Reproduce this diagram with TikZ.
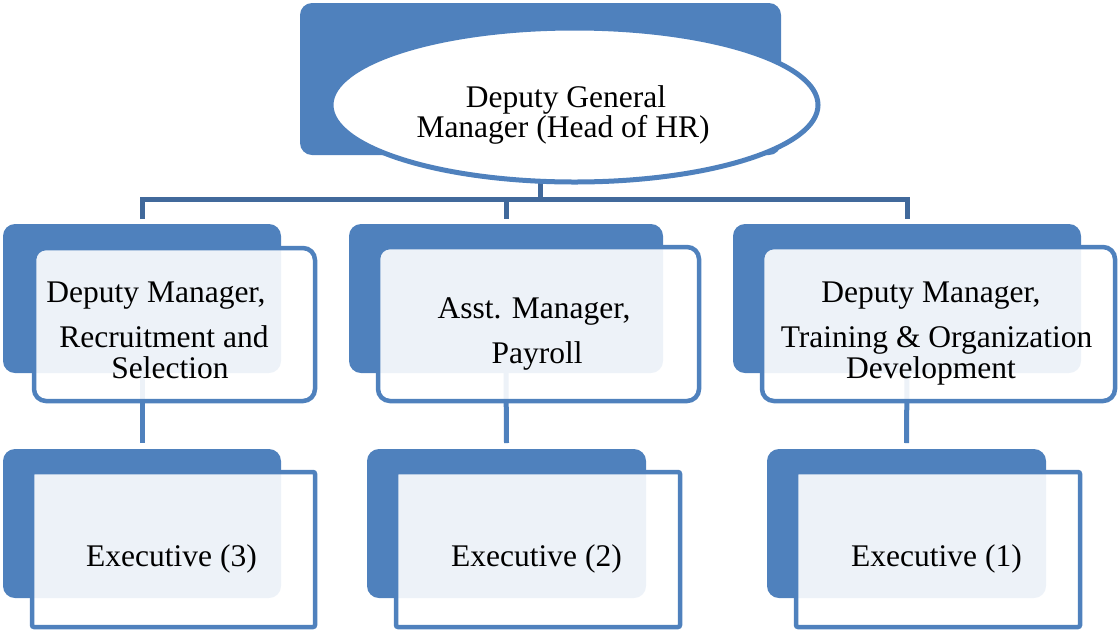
\documentclass[tikz,border=0pt]{standalone}
\usepackage{fontspec}
\setmainfont{Liberation Serif}
\usetikzlibrary{shapes.geometric}

\definecolor{accent}{RGB}{79,129,189}
\definecolor{linkdark}{RGB}{65,105,155}

\tikzset{
  bluebox/.style={fill=accent, draw=none, rounded corners=12pt, inner sep=0pt, outer sep=0pt},
  panel/.style={draw=accent, line width=4.5pt, fill=white, fill opacity=0.9, draw opacity=1,
                rounded corners=12pt, inner sep=0pt, outer sep=0pt},
  flatpanel/.style={panel, rounded corners=2pt},
  topnode/.style={ellipse, draw=accent, line width=5pt, fill=white, inner sep=0pt, outer sep=0pt,
                  minimum width=487pt, minimum height=154pt},
  conn/.style={draw=linkdark, line width=5pt, line join=miter},
  subconn/.style={draw=accent, line width=5pt},
  label/.style={anchor=base, inner sep=0pt, font=\fontsize{31.5}{36}\selectfont}
}

\begin{document}
\begin{tikzpicture}[x=1pt, y=-1pt]
  \useasboundingbox (0,0) rectangle (1118,630);

  % --- head of department ---
  \node[bluebox, minimum width=481pt, minimum height=152pt] (hb) at (540.5,79) {};
  \coordinate (bar) at (540,199.5);
  % outline of the head ellipse, used as an anchor for the link below it
  \node[topnode, draw=none, fill=none] (gm) at (574.5,105) {};

  % --- second row: blue tabs ---
  \node[bluebox, minimum width=278pt, minimum height=149pt] (b1) at (142,298.5) {};
  \node[bluebox, minimum width=314pt, minimum height=149pt] (b2) at (506,298.5) {};
  \node[bluebox, minimum width=348pt, minimum height=149pt] (b3) at (907,298.5) {};

  % --- third row: blue tabs ---
  \node[bluebox, minimum width=278pt, minimum height=149pt] (c1) at (142,523.5) {};
  \node[bluebox, minimum width=279pt, minimum height=149pt] (c2) at (506.5,523.5) {};
  \node[bluebox, minimum width=279pt, minimum height=149pt] (c3) at (906.5,523.5) {};

  % --- links from second to third row (beneath the panels) ---
  \path[subconn] (b1.south) -- ([yshift=6pt]c1.north);
  \path[subconn] (b2.south) -- ([yshift=6pt]c2.north);
  \path[subconn] (b3.south) -- ([yshift=6pt]c3.north);

  % --- panels over the blue tabs ---
  \node[panel, minimum width=281pt, minimum height=153pt] (p1) at (174.5,324.5) {};
  \node[panel, minimum width=321pt, minimum height=154pt] (p2) at (538.5,324) {};
  \node[panel, minimum width=353pt, minimum height=154pt] (p3) at (938.5,324) {};

  \node[flatpanel, minimum width=283pt, minimum height=155pt] (q1) at (173.5,549.5) {};
  \node[flatpanel, minimum width=284pt, minimum height=155pt] (q2) at (538,549.5) {};
  \node[flatpanel, minimum width=284pt, minimum height=155pt] (q3) at (938,549.5) {};

  % --- tree links from the head down to the second row ---
  \path[conn] ([yshift=5pt]b1.north) |- (bar) -| ([yshift=5pt]b3.north);
  \path[conn] (bar -| b2.north) -- ([yshift=5pt]b2.north);
  \path[conn] (gm.south -| bar) -- (bar);

  % --- head ellipse ---
  \node[topnode] at (gm) {};

  % --- texts ---
  \node[label] (gm1) at (566,107) {Deputy General};
  \node[label] (gm2) at (563,137) {Manager (Head of HR)};

  \node[label] (t11) at (156,302) {Deputy Manager,};
  \node[label] (t12) at (164,347) {Recruitment and};
  \node[label] (t13) at (170,378) {Selection};

  \node[label] (t21) at (534,318) {Asst. Manager,};
  \node[label] (t22) at (537,363) {Payroll};

  \node[label] (t31) at (931,302) {Deputy Manager,};
  \node[label] (t32) at (936.5,347) {Training \& Organization};
  \node[label] (t33) at (931,378) {Development};

  \node[label] (e1) at (171.5,566) {Executive (3)};
  \node[label] (e2) at (536.5,566) {Executive (2)};
  \node[label] (e3) at (936.5,566) {Executive (1)};
\end{tikzpicture}
\end{document}
